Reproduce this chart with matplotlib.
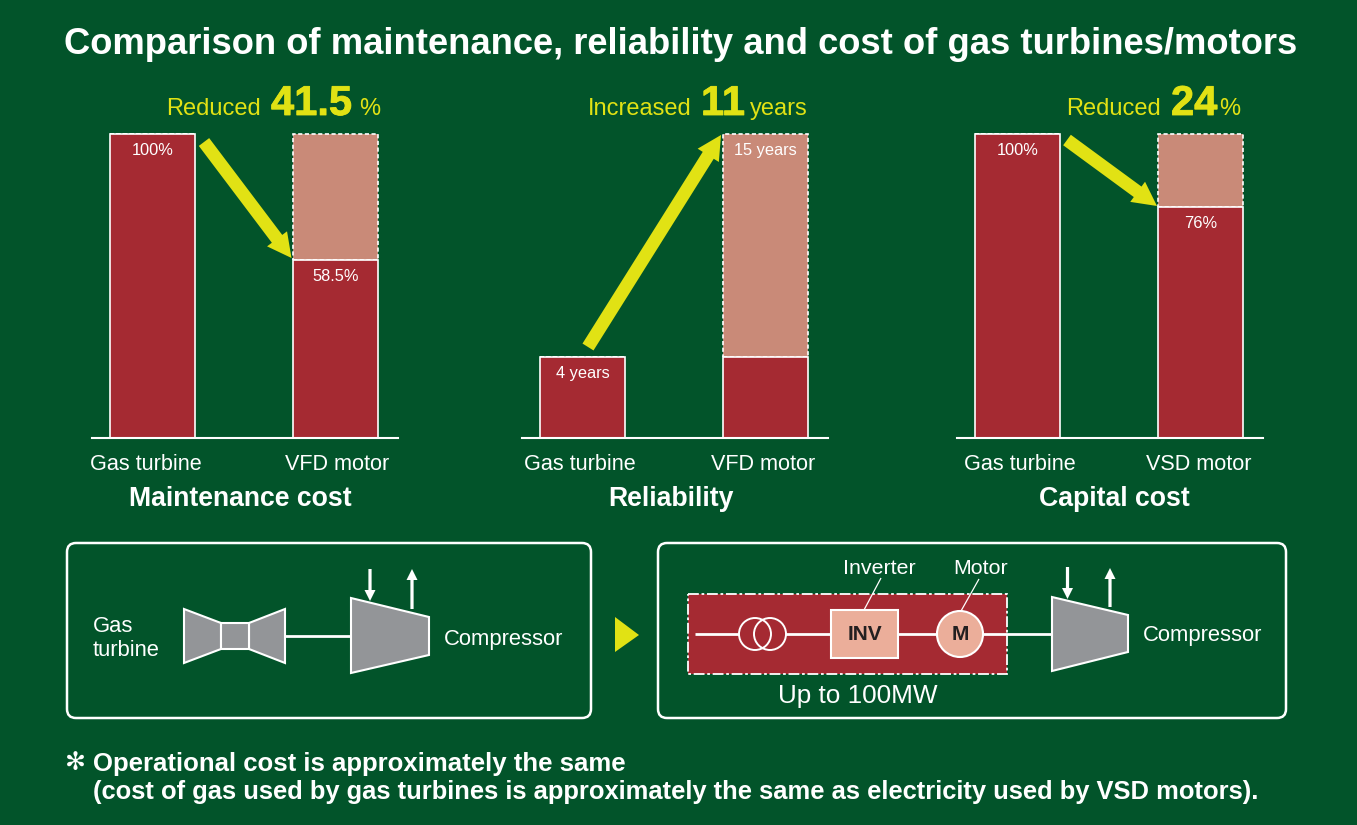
import matplotlib
matplotlib.use("Agg")
import matplotlib.pyplot as plt
import matplotlib.patheffects as pe
from matplotlib.patches import FancyArrow, FancyBboxPatch, Circle, Ellipse, Polygon, Rectangle

plt.rcParams['font.family'] = ['Liberation Sans', 'DejaVu Sans']

# data
chart_titles = ['Maintenance cost', 'Reliability', 'Capital cost']
categories = [['Gas turbine', 'VFD motor'], ['Gas turbine', 'VFD motor'], ['Gas turbine', 'VSD motor']]
solid_values = [[100, 58.5], [4, 4], [100, 76]]
ghost_values = [[0, 41.5], [0, 11], [0, 24]]
axis_max = [100, 15, 100]
value_labels = [['100%', '58.5%'], ['4 years', '15 years'], ['100%', '76%']]
label_heights = [[100, 58.5], [4, 15], [100, 76]]

W, H = 1357, 825
BG = '#02542A'
RED = '#A52A32'
PALE = '#C98A78'
YELLOW = '#E1E214'
GREY = '#939598'
SALMON = '#EBAE9A'
WHITE = '#FFFFFF'

fig = plt.figure(figsize=(W / 100, H / 100), dpi=100, facecolor=BG)

# pixel layout of the three bar charts
axes_left = [92, 522, 957]
BAR_STEP = 183
BAR_W = 85 / BAR_STEP
AX_W = 306
AX_TOP, AX_BOTTOM = 134, 438

for i in range(3):
    ax = fig.add_axes([axes_left[i] / W, 1 - AX_BOTTOM / H, AX_W / W, (AX_BOTTOM - AX_TOP) / H])
    ax.patch.set_alpha(0)
    ax.set_xlim(-60.5 / BAR_STEP, (AX_W - 60.5) / BAR_STEP)
    ax.set_ylim(0, axis_max[i])
    ax.bar([0, 1], ghost_values[i], bottom=solid_values[i], width=BAR_W, color=PALE,
           edgecolor=WHITE, linewidth=1.2, linestyle=(0, (2.5, 1.5)), clip_on=False)
    ax.bar([0, 1], solid_values[i], width=BAR_W, color=RED, edgecolor=WHITE, linewidth=1.2, clip_on=False)
    for j in range(2):
        ax.annotate(value_labels[i][j], (j, label_heights[i][j]), xytext=(0, -11.8),
                    textcoords='offset points', ha='center', va='center', color=WHITE, fontsize=11.8)
    for s in ['top', 'left', 'right']:
        ax.spines[s].set_visible(False)
    ax.spines['bottom'].set_color(WHITE)
    ax.spines['bottom'].set_linewidth(1.5)
    ax.set_xticks([])
    ax.set_yticks([])

# overlay in pixel coordinates for text and diagrams
ov = fig.add_axes([0, 0, 1, 1])
ov.set_xlim(0, W)
ov.set_ylim(H, 0)
ov.axis('off')
ov.patch.set_alpha(0)


def txt(x, y, s, size, color=WHITE, weight='normal', ha='left', va='center', **kw):
    return ov.text(x, y, s, fontsize=size, color=color, fontweight=weight, ha=ha, va=va, **kw)


def big(x, s):
    t = txt(x, 115, s, 30, YELLOW, 'bold', va='baseline')
    t.set_path_effects([pe.withStroke(linewidth=0.6, foreground=YELLOW)])


def arrow(x0, y0, x1, y1, w, hw, hl, color):
    ov.add_patch(FancyArrow(x0, y0, x1 - x0, y1 - y0, width=w, head_width=hw, head_length=hl,
                            length_includes_head=True, color=color, linewidth=0, zorder=5))


def poly(points, color=GREY, zorder=3):
    ov.add_patch(Polygon(points, closed=True, facecolor=color, edgecolor=WHITE, linewidth=1.5, zorder=zorder))


def line(x0, y0, x1, y1, lw=2.0):
    ov.plot([x0, x1], [y0, y1], color=WHITE, lw=lw, solid_capstyle='butt', zorder=2)


txt(680.5, 44, 'Comparison of maintenance, reliability and cost of gas turbines/motors', 26.2,
    weight='bold', ha='center')

# headlines
txt(166, 115, 'Reduced', 17, YELLOW, va='baseline')
big(271, '41.5')
txt(359, 115, '%', 17, YELLOW, va='baseline')
txt(588, 115, 'Increased', 17, YELLOW, va='baseline')
big(701, '11')
txt(750, 115, 'years', 17, YELLOW, va='baseline')
txt(1066, 115, 'Reduced', 17, YELLOW, va='baseline')
big(1171, '24')
txt(1219, 115, '%', 17, YELLOW, va='baseline')

# trend arrows
arrow(204, 142, 291.5, 258, 13, 25, 24, YELLOW)
arrow(588, 347, 721, 135, 13, 25, 24, YELLOW)
arrow(1067, 140, 1157, 206, 13, 25, 24, YELLOW)

# category and chart labels
cat_x = [[146, 337], [580, 763], [1020, 1199]]
title_x = [240, 671, 1114]
for i in range(3):
    for j in range(2):
        txt(cat_x[i][j], 464, categories[i][j], 15.6, ha='center')
    txt(title_x[i], 499, chart_titles[i], 19.2, weight='bold', ha='center')

# diagram frames
for x0, x1 in [(67, 591), (658, 1286)]:
    ov.add_patch(FancyBboxPatch((x0, 543), x1 - x0, 175, boxstyle='round,pad=0,rounding_size=9',
                                facecolor='none', edgecolor=WHITE, linewidth=1.8))

# gas turbine side
txt(93, 626.5, 'Gas', 15.8)
txt(93, 650.5, 'turbine', 15.8)
poly([(184, 609), (221, 623), (221, 649), (184, 663)])
poly([(285, 609), (249, 623), (249, 649), (285, 663)])
ov.add_patch(Rectangle((221, 623), 28, 26, facecolor=GREY, edgecolor=WHITE, linewidth=1.5, zorder=3))
line(285, 635.5, 351, 635.5)
poly([(351, 598), (429, 617), (429, 655), (351, 673)])
arrow(370, 569, 370, 601, 3.2, 11, 11, WHITE)
arrow(412, 609, 412, 569, 3.2, 11, 11, WHITE)
txt(444, 640, 'Compressor', 15.8)

# triangle between panels
ov.add_patch(Polygon([(615, 617), (639, 635), (615, 652)], closed=True, facecolor=YELLOW, edgecolor='none'))

# motor side
ov.add_patch(Rectangle((687.5, 593.5), 319.5, 80.5, facecolor=RED, edgecolor=WHITE, linewidth=1.3,
                       linestyle=(0, (6, 1.5, 1.5, 1.5)), zorder=1))
line(695, 634, 1052, 634)
for cx in [755, 770]:
    ov.add_patch(Circle((cx, 634), 16, facecolor=RED, edgecolor='none', zorder=3))
for cx in [755, 770]:
    ov.add_patch(Circle((cx, 634), 16, facecolor='none', edgecolor=WHITE, linewidth=1.4, zorder=3))
ov.add_patch(Rectangle((831, 610), 67, 48, facecolor=SALMON, edgecolor=WHITE, linewidth=1.5, zorder=3))
ov.add_patch(Ellipse((960, 634), 46, 46, facecolor=SALMON, edgecolor=WHITE, linewidth=1.5, zorder=3))
txt(865, 635, 'INV', 15, color='#231F20', weight='bold', ha='center', zorder=4)
txt(960, 635, 'M', 15, color='#231F20', weight='bold', ha='center', zorder=4)
line(881, 578, 864, 610, lw=0.9)
line(979, 579, 961, 611, lw=0.9)
txt(879, 568.5, 'Inverter', 15.4, ha='center')
txt(981, 568.5, 'Motor', 15.4, ha='center')
txt(858, 696, 'Up to 100MW', 18.8, ha='center')
poly([(1052, 597), (1128, 615), (1128, 652), (1052, 671)])
arrow(1067.5, 567, 1067.5, 599, 3.2, 11, 11, WHITE)
arrow(1110, 607, 1110, 568, 3.2, 11, 11, WHITE)
txt(1143, 635.5, 'Compressor', 15.8)

# footnote
ov.text(75, 763, '\u273b', fontsize=18, color=WHITE, ha='center', va='center', family='DejaVu Sans')
txt(93, 763.5, 'Operational cost is approximately the same', 18.5, weight='bold')
txt(93, 792.5, '(cost of gas used by gas turbines is approximately the same as electricity used by VSD motors).', 18.4,
    weight='bold')

fig.savefig('out.png', dpi=100, facecolor=BG)
